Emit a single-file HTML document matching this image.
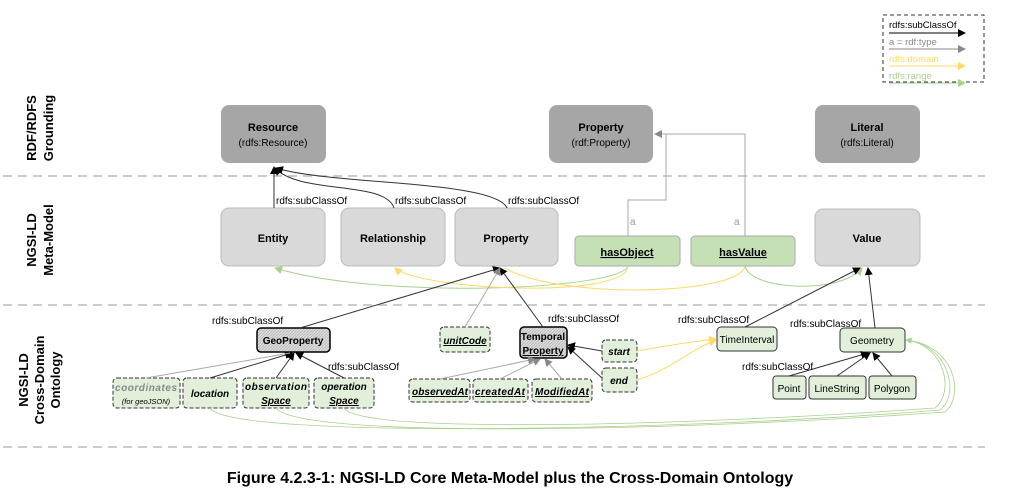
<!DOCTYPE html>
<html><head><meta charset="utf-8"><style>
html,body{margin:0;padding:0;background:#fff;width:1020px;height:498px;overflow:hidden}
svg text{font-family:"Liberation Sans",sans-serif}
</style></head><body>
<svg width="1020" height="498" viewBox="0 0 1020 498" xmlns="http://www.w3.org/2000/svg">
<defs>
<marker id="ab" markerWidth="8" markerHeight="8" refX="7" refY="4" orient="auto"><path d="M0,0 L8,4 L0,8z" fill="#000"/></marker>
<marker id="ag" markerWidth="8" markerHeight="8" refX="7" refY="4" orient="auto"><path d="M0,0 L8,4 L0,8z" fill="#888"/></marker>
<marker id="ay" markerWidth="8" markerHeight="8" refX="7" refY="4" orient="auto"><path d="M0,0 L8,4 L0,8z" fill="#ffd966"/></marker>
<marker id="ar" markerWidth="8" markerHeight="8" refX="7" refY="4" orient="auto"><path d="M0,0 L8,4 L0,8z" fill="#a9d18e"/></marker>
<pattern id="hatch" width="3" height="3" patternUnits="userSpaceOnUse"><rect width="3" height="3" fill="#ddd"/><path d="M0,3 L3,0" stroke="#bbb" stroke-width="1"/></pattern>
</defs>
<g stroke="#bbb" stroke-width="1.5" stroke-dasharray="9,6">
<line x1="3" y1="176" x2="985" y2="176"/><line x1="3" y1="305" x2="985" y2="305"/><line x1="3" y1="447" x2="985" y2="447"/>
</g>
<g font-weight="bold" font-size="13" fill="#000" text-anchor="middle">
<text transform="translate(40,128) rotate(-90)"><tspan x="0" y="-4">RDF/RDFS</tspan><tspan x="0" y="13">Grounding</tspan></text>
<text transform="translate(40,240) rotate(-90)"><tspan x="0" y="-4">NGSI-LD</tspan><tspan x="0" y="13">Meta-Model</tspan></text>
<text transform="translate(40,380) rotate(-90)"><tspan x="0" y="-12">NGSI-LD</tspan><tspan x="0" y="4">Cross-Domain</tspan><tspan x="0" y="20">Ontology</tspan></text>
</g>
<!-- legend -->
<rect x="883" y="15" width="101" height="67" fill="none" stroke="#333" stroke-dasharray="4,3"/>
<g font-size="9.5"><text x="889" y="28">rdfs:subClassOf</text><text x="889" y="45" fill="#888">a = rdf:type</text><text x="889" y="62" fill="#ffd966">rdfs:domain</text><text x="889" y="79" fill="#a9d18e">rdfs:range</text></g>
<line x1="889" y1="33" x2="965" y2="33" stroke="#000" marker-end="url(#ab)"/>
<line x1="889" y1="49" x2="965" y2="49" stroke="#888" marker-end="url(#ag)"/>
<line x1="889" y1="66" x2="965" y2="66" stroke="#ffd966" marker-end="url(#ay)"/>
<line x1="889" y1="83" x2="965" y2="83" stroke="#a9d18e" marker-end="url(#ar)"/>
<!-- row 1 -->
<g fill="#a6a6a6"><rect x="221" y="105" width="105" height="58" rx="8"/><rect x="549" y="105" width="104" height="58" rx="8"/><rect x="815" y="105" width="105" height="58" rx="8"/></g>
<g font-size="11" text-anchor="middle"><text x="273" y="131" font-weight="bold">Resource</text><text x="273" y="146" font-size="10">(rdfs:Resource)</text>
<text x="601" y="131" font-weight="bold">Property</text><text x="601" y="146" font-size="10">(rdf:Property)</text>
<text x="867" y="131" font-weight="bold">Literal</text><text x="867" y="146" font-size="10">(rdfs:Literal)</text></g>
<!-- row 2 -->
<g fill="#d9d9d9" stroke="#bbb"><rect x="221" y="208" width="104" height="58" rx="8"/><rect x="341" y="208" width="104" height="58" rx="8"/><rect x="455" y="208" width="103" height="58" rx="8"/><rect x="815" y="209" width="105" height="57" rx="8"/></g>
<g fill="#c5e0b4" stroke="#aaa"><rect x="575" y="236" width="105" height="30" rx="4"/><rect x="691" y="236" width="104" height="30" rx="4"/></g>
<g font-size="11" font-weight="bold" text-anchor="middle"><text x="273" y="242">Entity</text><text x="393" y="242">Relationship</text><text x="506" y="242">Property</text><text x="867" y="242">Value</text>
<text x="627" y="256" text-decoration="underline">hasObject</text><text x="743" y="256" text-decoration="underline">hasValue</text></g>
<!-- subclass to Resource -->
<g stroke="#333" fill="none" stroke-width="1"><path d="M274,208 V167" marker-end="url(#ab)"/><path d="M394,208 C385,180 300,195 275,168" marker-end="url(#ab)"/><path d="M507,208 C495,180 330,185 276,168" marker-end="url(#ab)"/></g>
<g font-size="10"><text x="276" y="204">rdfs:subClassOf</text><text x="395" y="204">rdfs:subClassOf</text><text x="508" y="204">rdfs:subClassOf</text></g>
<!-- a to rdf:Property -->
<g stroke="#aaa" fill="none"><path d="M628,236 V200 H666 V134"/><path d="M745,236 V134 H655" marker-end="url(#ag)"/></g>
<g font-size="10" fill="#999"><text x="630" y="225">a</text><text x="734" y="225">a</text></g>
<!-- domain/range curves row2 -->
<g fill="none" stroke-width="1"><path d="M628,266 C620,290 380,300 275,268" stroke="#a9d18e" marker-end="url(#ar)"/><path d="M628,266 C625,300 420,290 395,268" stroke="#ffd966" marker-end="url(#ay)"/><path d="M745,266 C740,295 560,300 505,268" stroke="#ffd966"/><path d="M745,266 C750,290 840,295 862,268" stroke="#a9d18e" marker-end="url(#ar)"/></g>
<!-- row 3 -->
<rect x="257" y="328" width="73" height="24" rx="4" fill="url(#hatch)" stroke="#000" stroke-width="1.5"/>
<rect x="520" y="327" width="47" height="31" rx="4" fill="url(#hatch)" stroke="#000" stroke-width="1.5"/>
<g fill="#e2efda" stroke="#333" stroke-dasharray="4,2"><rect x="440" y="327" width="50" height="25" rx="4"/><rect x="602" y="340" width="35" height="22" rx="4"/><rect x="602" y="368" width="35" height="24" rx="4"/>
<rect x="113" y="378" width="67" height="30" rx="4"/><rect x="183" y="378" width="54" height="30" rx="4"/><rect x="243" y="378" width="66" height="30" rx="4"/><rect x="314" y="378" width="60" height="30" rx="4"/>
<rect x="409" y="379" width="61" height="23" rx="4"/><rect x="473" y="379" width="55" height="23" rx="4"/><rect x="532" y="379" width="60" height="23" rx="4"/></g>
<g fill="#e2efda" stroke="#333"><rect x="717" y="327" width="60" height="24" rx="4"/><rect x="840" y="328" width="65" height="24" rx="4"/><rect x="773" y="376" width="33" height="23" rx="3"/><rect x="809" y="376" width="57" height="23" rx="3"/><rect x="869" y="376" width="47" height="23" rx="3"/></g>
<g font-size="10" text-anchor="middle">
<text x="293" y="344" font-weight="bold">GeoProperty</text>
<text x="543" y="340" font-weight="bold">Temporal</text><text x="543" y="354" font-weight="bold" text-decoration="underline">Property</text>
<text x="465" y="344" font-weight="bold" font-style="italic" text-decoration="underline">unitCode</text>
<text x="619" y="355" font-weight="bold" font-style="italic">start</text><text x="619" y="384" font-weight="bold" font-style="italic">end</text>
<text x="146" y="391" font-weight="bold" font-style="italic" fill="#888" textLength="62">coordinates</text><text x="146" y="404" font-size="7.5" font-style="italic">(for geoJSON)</text>
<text x="210" y="397" font-weight="bold" font-style="italic">location</text>
<text x="276" y="390" font-weight="bold" font-style="italic" textLength="62">observation</text><text x="276" y="404" font-weight="bold" font-style="italic" text-decoration="underline">Space</text>
<text x="344" y="390" font-weight="bold" font-style="italic">operation</text><text x="344" y="404" font-weight="bold" font-style="italic" text-decoration="underline">Space</text>
<text x="440" y="395" font-weight="bold" font-style="italic" text-decoration="underline" textLength="56">observedAt</text><text x="500" y="395" font-weight="bold" font-style="italic" text-decoration="underline" textLength="50">createdAt</text><text x="562" y="395" font-weight="bold" font-style="italic" text-decoration="underline" textLength="54">ModifiedAt</text>
<text x="747" y="343">TimeInterval</text><text x="872" y="344">Geometry</text>
<text x="789" y="392">Point</text><text x="837" y="392">LineString</text><text x="892" y="392">Polygon</text></g>
<!-- row3 connectors -->
<g stroke="#333" fill="none"><path d="M300,328 L500,268" marker-end="url(#ab)"/><path d="M543,327 L500,268" marker-end="url(#ab)"/><path d="M745,327 L860,268" marker-end="url(#ab)"/><path d="M875,328 L868,268" marker-end="url(#ab)"/>
<path d="M210,378 L292,353" marker-end="url(#ab)"/><path d="M276,378 L294,353" marker-end="url(#ab)"/><path d="M344,378 L296,353" marker-end="url(#ab)"/>
<path d="M602,351 L568,345" marker-end="url(#ab)"/><path d="M602,378 L568,347" marker-end="url(#ab)"/>
<path d="M789,376 L868,353" marker-end="url(#ab)"/><path d="M837,376 L870,353" marker-end="url(#ab)"/><path d="M892,376 L873,353" marker-end="url(#ab)"/></g>
<g stroke="#aaa" fill="none"><path d="M465,327 L500,268" marker-end="url(#ag)"/><path d="M146,378 L290,353"/><path d="M440,379 L535,359" marker-end="url(#ag)"/><path d="M500,379 L540,359" marker-end="url(#ag)"/><path d="M562,379 L545,359" marker-end="url(#ag)"/></g>
<g stroke="#ffd966" fill="none"><path d="M637,351 C670,345 690,342 716,339" marker-end="url(#ay)"/><path d="M637,380 C670,370 690,350 716,340" marker-end="url(#ay)"/></g>
<g stroke="#a9d18e" fill="none" stroke-width="0.8"><path d="M210,408 C230,440 700,430 940,410 C960,395 950,345 906,340" marker-end="url(#ar)"/><path d="M276,408 C300,440 700,430 945,412 C965,395 955,345 906,340"/><path d="M344,408 C360,435 700,425 935,408 C955,392 945,345 906,340"/></g>
<g font-size="10"><text x="212" y="324">rdfs:subClassOf</text><text x="328" y="370">rdfs:subClassOf</text><text x="548" y="322">rdfs:subClassOf</text><text x="678" y="323">rdfs:subClassOf</text><text x="790" y="327">rdfs:subClassOf</text><text x="742" y="370">rdfs:subClassOf</text></g>
<text x="510" y="483" font-size="16" font-weight="bold" text-anchor="middle">Figure 4.2.3-1: NGSI-LD Core Meta-Model plus the Cross-Domain Ontology</text>
</svg>
</body></html>
